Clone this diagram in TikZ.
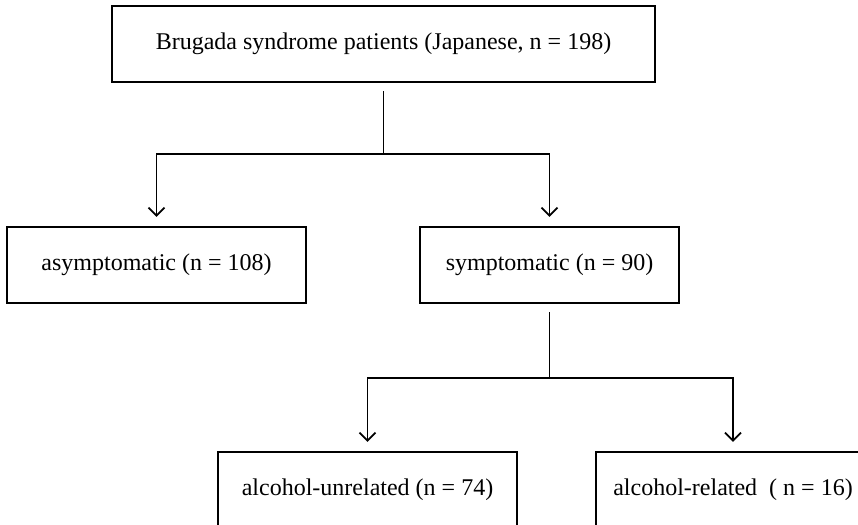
\documentclass[tikz,border=0pt]{standalone}
\usepackage{fontspec}
\setmainfont{Liberation Serif}
\usetikzlibrary{arrows.meta}
\tikzset{
  box/.style={draw=black, line width=2.1pt, inner sep=0pt, align=center,
    font=\fontsize{24}{28}\selectfont},
  cutbox/.style={box, text height=17pt, text depth=19pt},
  conn/.style={draw=black, line width=1.9pt},
  arr/.style={conn, -{Straight Barb[length=8pt,width=16pt,line width=1.9pt]}, shorten >=9pt}
}
\begin{document}
\begin{tikzpicture}[x=1pt,y=-1pt]
\useasboundingbox (0,0) rectangle (858,524);
\clip (0,0) rectangle (858,524);
\fill[white] (0,0) rectangle (858,524);
\node[box, minimum width=543pt, minimum height=76pt] (b1) at (383.5,44) {Brugada syndrome patients (Japanese, n = 198)};
\node[box, minimum width=299pt, minimum height=76pt] (b2) at (156.5,265) {asymptomatic (n = 108)};
\node[box, minimum width=259pt, minimum height=76pt] (b3) at (549.5,265) {symptomatic (n = 90)};
\node[cutbox, minimum width=299pt, minimum height=88pt] (b4) at (367.5,496) {alcohol-unrelated (n = 74)};
\node[cutbox, minimum width=274pt, minimum height=88pt] (b5) at (733,496) {alcohol-related\ \ ( n = 16)};
\coordinate (j1) at (383.5,154);
\coordinate (j2) at (549.5,378);
\draw[conn, shorten <=8pt] (b1.south) -- (j1);
\draw[arr] (j1) -| (b2.north);
\draw[arr] (j1) -| (b3.north);
\draw[conn, shorten <=8pt] (b3.south) -- (j2);
\draw[arr] (j2) -| (b4.north);
\draw[arr] (j2) -| (b5.north);
\end{tikzpicture}
\end{document}
